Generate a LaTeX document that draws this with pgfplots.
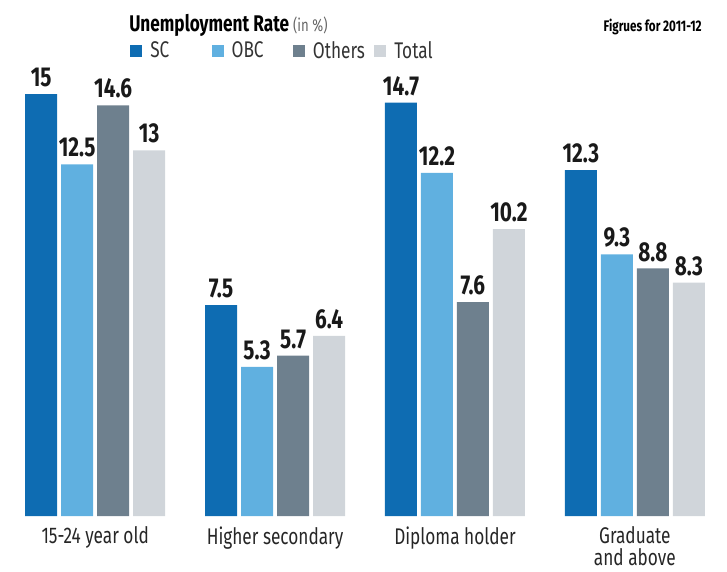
\documentclass[border=0pt]{standalone}
\usepackage{fontspec}
\setmainfont{Fira Sans}[FakeStretch=0.76]
\usepackage{pgfplots}
\pgfplotsset{compat=1.18}
\definecolor{cSC}{RGB}{14,108,178}
\definecolor{cOBC}{RGB}{96,176,224}
\definecolor{cOth}{RGB}{110,128,142}
\definecolor{cTot}{RGB}{208,213,218}
\pgfplotstableread{
x SC OBC Oth Tot
0 15 12.5 14.6 13
1 7.5 5.3 5.7 6.4
2 14.7 12.2 7.6 10.2
3 12.3 9.3 8.8 8.3
}\data
\begin{document}
\begin{tikzpicture}
\path[use as bounding box] (0,0) rectangle (545.25pt,428.25pt);
\begin{axis}[
  at={(18.75pt,41.25pt)}, anchor=south west,
  scale only axis, width=510pt, height=327pt,
  xmin=-0.39, xmax=3.39, ymin=0, ymax=15.5,
  axis line style={draw=none},
  ytick=\empty,
  xtick={0,1,2,3},
  xticklabels={15-24 year old, Higher secondary, Diploma holder, {Graduate\\and above}},
  xticklabel style={align=center, font=\fontsize{17}{16.5}\selectfont, text=black!85, inner sep=0pt, yshift=-8pt},
  major tick length=0pt,
  ybar, bar width=24pt,
  /pgf/number format/assume math mode=true,
  nodes near coords,
  nodes near coords style={font=\bfseries\fontsize{20.5}{20.5}\selectfont, text=black!90, anchor=south, inner sep=0pt, yshift=5pt},
  legend columns=4,
  legend style={at={(0.1544,1.0665)}, anchor=west, draw=none, fill=none, inner sep=0pt,
     font=\fontsize{17}{17}\selectfont, text=black!80, cells={anchor=west},
     /tikz/every odd column/.append style={column sep=4pt}},
  legend image code/.code={\fill[#1] (0pt,-4.5pt) rectangle (9pt,4.5pt);},
]
\addplot[fill=cSC, draw=none, bar shift=-40.5pt] table[x=x,y=SC]{\data};
\addlegendentry{\makebox[44pt][l]{SC}}
\addplot[fill=cOBC, draw=none, bar shift=-13.5pt] table[x=x,y=OBC]{\data};
\addlegendentry{\makebox[44pt][l]{OBC}}
\addplot[fill=cOth, draw=none, bar shift=13.5pt] table[x=x,y=Oth]{\data};
\addlegendentry{\makebox[44pt][l]{Others}}
\addplot[fill=cTot, draw=none, bar shift=40.5pt] table[x=x,y=Tot]{\data};
\addlegendentry{Total}
\end{axis}
\node[anchor=base west, inner sep=0pt] at (96.75pt,404.25pt)
  {\bfseries\fontsize{17}{17}\selectfont Unemployment Rate {\mdseries\fontsize{13}{13}\selectfont\color{black!60} (in \%)}};
\node[anchor=base east, inner sep=0pt] at (526.5pt,404.25pt)
  {\bfseries\fontsize{11.5}{11.5}\selectfont Figrues for 2011-12};
\end{tikzpicture}
\end{document}
